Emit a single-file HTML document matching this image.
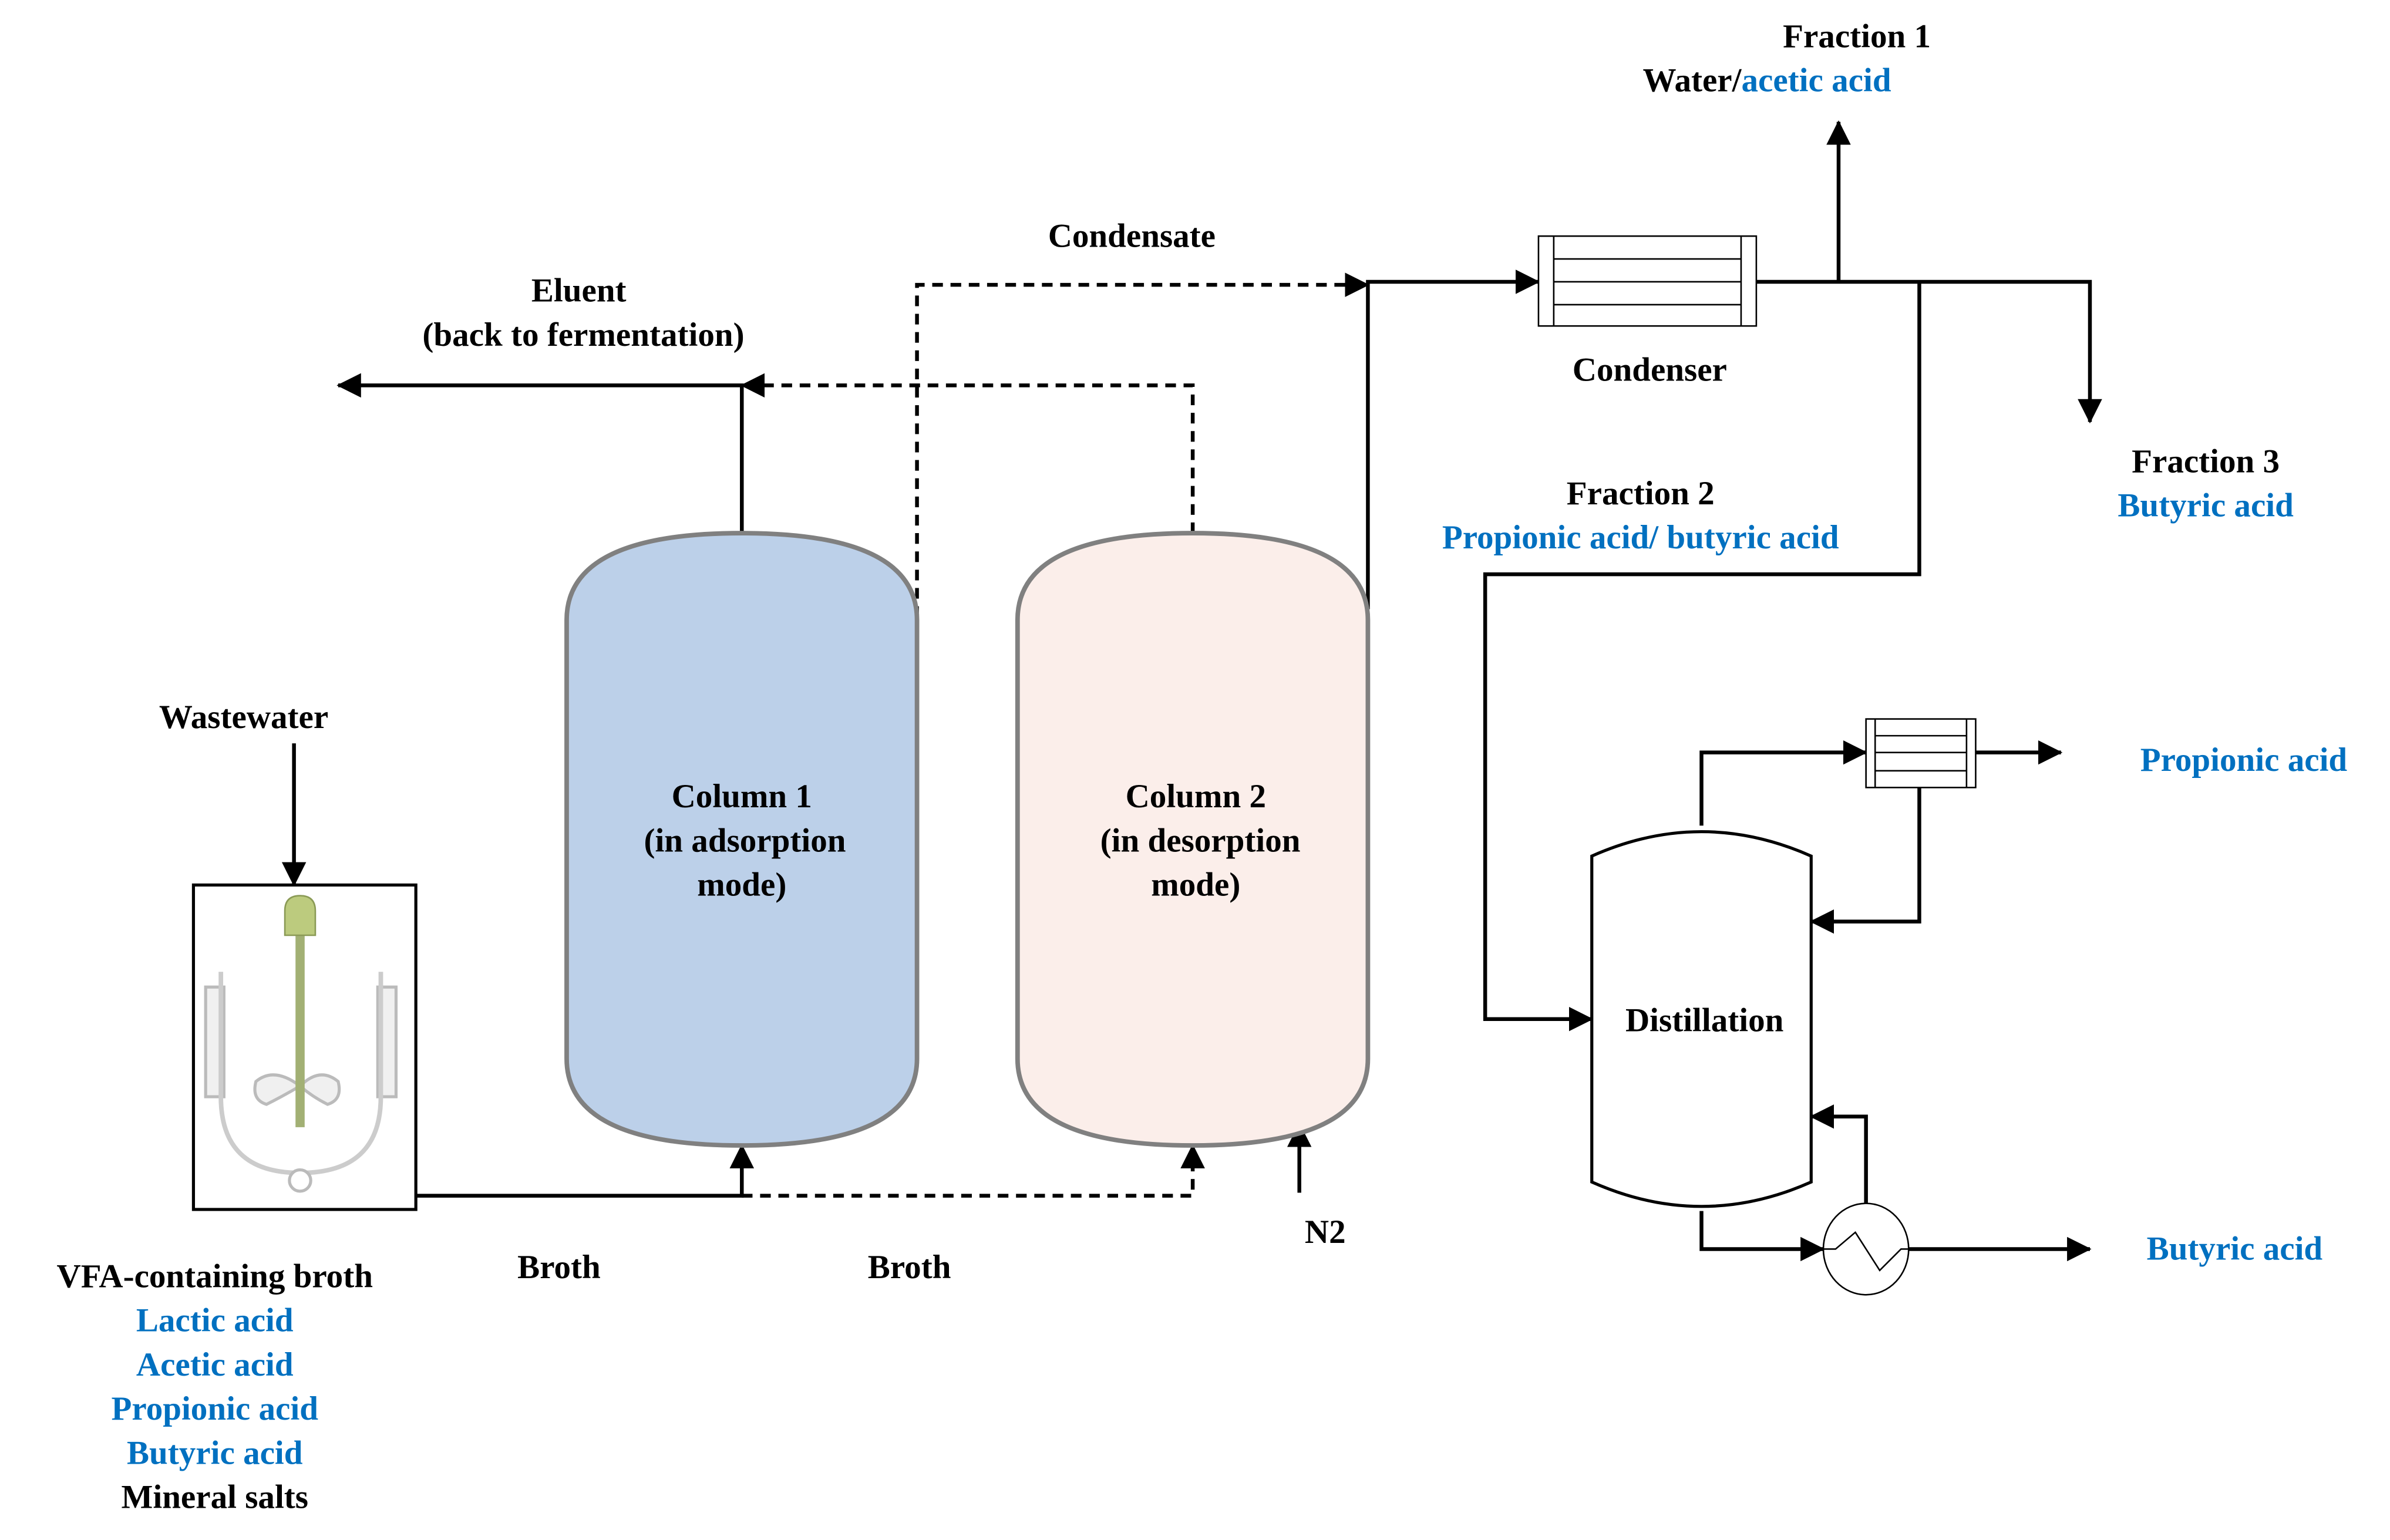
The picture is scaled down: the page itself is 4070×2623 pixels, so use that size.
<!DOCTYPE html>
<html><head><meta charset="utf-8"><style>html,body{margin:0;padding:0;background:#fff}svg{display:block}text{font-family:"Liberation Serif",serif;font-size:22px;font-weight:bold;text-anchor:middle}.b{fill:#0070c0}</style></head><body>
<svg width="4070" height="2623" viewBox="0 0 1569 1011" preserveAspectRatio="none" xmlns="http://www.w3.org/2000/svg">
<defs>
<marker id="s" markerWidth="16" markerHeight="16" refX="15" refY="8" orient="auto" markerUnits="userSpaceOnUse"><path d="M0,0L16,8L0,16z" fill="#000"/></marker>
</defs>
<g fill="none" stroke="#000" stroke-width="2.5">
<rect x="127" y="581" width="146" height="213" stroke-width="2"/>
<line x1="193" y1="488" x2="193" y2="581" marker-end="url(#s)"/>
<polyline points="273,785 487,785 487,752" marker-end="url(#s)"/>
<polyline points="487,785 783,785 783,752" stroke-dasharray="7,5" marker-end="url(#s)"/>
<polyline points="487,350 487,253 222,253" marker-end="url(#s)"/>
<polyline points="783,350 783,253 487,253" stroke-dasharray="7,5" marker-end="url(#s)"/>
<polyline points="602,405 602,187 898,187" stroke-dasharray="7,5" marker-end="url(#s)"/>
<polyline points="898,400 898,185 1010,185" marker-end="url(#s)"/>
<polyline points="1153,185 1372,185 1372,277" marker-end="url(#s)"/>
<line x1="1207" y1="185" x2="1207" y2="80" marker-end="url(#s)"/>
<polyline points="1260,185 1260,377 975,377 975,669 1045,669" marker-end="url(#s)"/>
<polyline points="1117,542 1117,494 1225,494" marker-end="url(#s)"/>
<line x1="1297" y1="494" x2="1353" y2="494" marker-end="url(#s)"/>
<polyline points="1260,517 1260,605 1189,605" marker-end="url(#s)"/>
<polyline points="1117,795 1117,820 1197,820" marker-end="url(#s)"/>
<polyline points="1225,791 1225,733 1189,733" marker-end="url(#s)"/>
<line x1="1253" y1="820" x2="1372" y2="820" marker-end="url(#s)"/>
<line x1="853" y1="783" x2="853" y2="738" marker-end="url(#s)"/>
</g>
<path d="M372,407 Q372,350 487,350 Q602,350 602,407 L602,695 Q602,752 487,752 Q372,752 372,695 Z" fill="#bcd0e9" stroke="#808080" stroke-width="3"/>
<path d="M668,407 Q668,350 783,350 Q898,350 898,407 L898,695 Q898,752 783,752 Q668,752 668,695 Z" fill="#fbeeea" stroke="#808080" stroke-width="3"/>
<g fill="#fff" stroke="#000" stroke-width="1">
<rect x="1010" y="155" width="143" height="59"/>
<line x1="1020" y1="155" x2="1020" y2="214"/><line x1="1143" y1="155" x2="1143" y2="214"/>
<line x1="1020" y1="170" x2="1143" y2="170"/><line x1="1020" y1="185" x2="1143" y2="185"/><line x1="1020" y1="200" x2="1143" y2="200"/>
<rect x="1225" y="472" width="72" height="45"/>
<line x1="1231" y1="472" x2="1231" y2="517"/><line x1="1291" y1="472" x2="1291" y2="517"/>
<line x1="1231" y1="483" x2="1291" y2="483"/><line x1="1231" y1="494" x2="1291" y2="494"/><line x1="1231" y1="506" x2="1291" y2="506"/>
<ellipse cx="1225" cy="820" rx="28" ry="30"/>
<polyline points="1197,820 1205,820 1218,809 1234,834 1248,820 1253,820" fill="none"/>
</g>
<path d="M1045,562 Q1117,530 1189,562 L1189,776 Q1117,808 1045,776 Z" fill="#fff" stroke="#000" stroke-width="2"/>
<g stroke="#bbb" stroke-width="2" fill="#f0f0f0">
<rect x="135" y="648" width="12" height="72"/>
<rect x="248" y="648" width="12" height="72"/>
<path d="M145,638 L145,720 Q145,770 197,770 Q250,770 250,720 L250,638" fill="none" stroke="#ccc" stroke-width="3"/>
<path d="M197,713 Q180,700 168,710 Q165,722 175,725 Q185,720 197,713 Q210,700 222,710 Q225,722 215,725 Q205,720 197,713Z"/>
<circle cx="197" cy="775" r="7" fill="#fff"/>
</g>
<rect x="194" y="600" width="6" height="140" fill="#a2b074"/>
<path d="M187,614 L187,598 Q187,588 197,588 Q207,588 207,598 L207,614Z" fill="#bccb7e" stroke="#8a9a55"/>
<text x="160" y="478">Wastewater</text>
<text x="380" y="198">Eluent</text>
<text x="383" y="227">(back to fermentation)</text>
<text x="743" y="162">Condensate</text>
<text x="1219" y="31">Fraction 1</text>
<text x="1160" y="60">Water/<tspan class="b">acetic acid</tspan></text>
<text x="1083" y="250">Condenser</text>
<text x="1448" y="310">Fraction 3</text>
<text x="1448" y="339" class="b">Butyric acid</text>
<text x="1077" y="331">Fraction 2</text>
<text x="1077" y="360" class="b">Propionic acid/ butyric  acid</text>
<text x="487" y="530">Column 1</text>
<text x="489" y="559">(in adsorption</text>
<text x="487" y="588">mode)</text>
<text x="785" y="530">Column 2</text>
<text x="788" y="559">(in desorption</text>
<text x="785" y="588">mode)</text>
<text x="1119" y="677">Distillation</text>
<text x="1473" y="506" class="b">Propionic acid</text>
<text x="1467" y="827" class="b">Butyric acid</text>
<text x="870" y="816">N2</text>
<text x="367" y="839">Broth</text>
<text x="597" y="839">Broth</text>
<text x="141" y="845">VFA-containing broth</text>
<text x="141" y="874" class="b">Lactic acid</text>
<text x="141" y="903" class="b">Acetic acid</text>
<text x="141" y="932" class="b">Propionic acid</text>
<text x="141" y="961" class="b">Butyric acid</text>
<text x="141" y="990">Mineral salts</text>
</svg>
</body></html>
